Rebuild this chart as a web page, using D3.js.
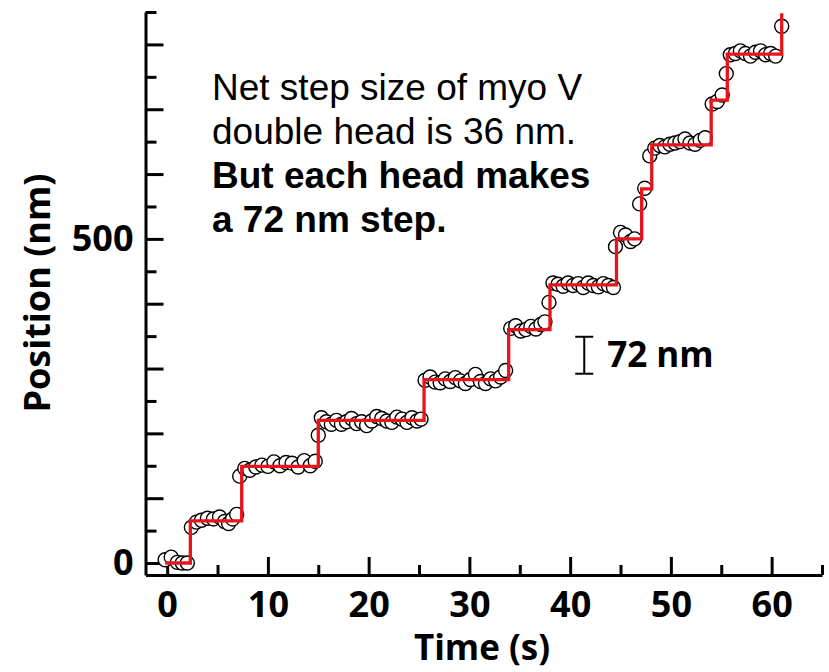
<!DOCTYPE html>
<html>
<head>
<meta charset="utf-8">
<script src="https://cdn.jsdelivr.net/npm/d3@7"></script>
<style>
  body { margin: 0; background: #fff; }
  svg { display: block; }
</style>
</head>
<body>
<svg id="chart" width="829" height="672"></svg>
<script>
// measured trace (time in s, position in nm)
const times = [
    -0.2, 0.4, 1.0, 1.5, 2.0,
    2.4, 2.9, 3.4, 4.0, 4.6, 5.2, 5.7, 6.1, 6.5, 6.9,
    7.2, 7.7, 8.2, 8.8, 9.4, 10.0, 10.6, 11.2, 11.8, 12.4, 13.0, 13.6, 14.2, 14.7,
    15.0, 15.3, 15.8, 16.3, 16.8, 17.3, 17.8, 18.3, 18.8, 19.3, 19.8, 20.3, 20.8, 21.3, 21.8, 22.3, 22.8, 23.3, 23.8, 24.3, 24.8, 25.2,
    25.6, 26.1, 26.6, 27.1, 27.6, 28.1, 28.6, 29.1, 29.6, 30.1, 30.6, 31.1, 31.6, 32.1, 32.6, 33.1, 33.6,
    34.1, 34.6, 35.1, 35.6, 36.1, 36.6, 37.1, 37.5,
    37.9, 38.3, 38.8, 39.3, 39.8, 40.3, 40.8, 41.3, 41.8, 42.3, 42.8, 43.3, 43.8, 44.3,
    44.5, 45.0, 45.5, 46.0, 46.4,
    46.9, 47.4,
    47.9, 48.4, 48.9, 49.4, 49.9, 50.4, 50.9, 51.4, 51.9, 52.4, 52.9, 53.4,
    54.1, 54.6, 55.1,
    55.5, 55.9, 56.4, 56.9, 57.4, 57.9, 58.4, 58.9, 59.4, 59.9, 60.4,
    61.0
];
const positions = [
    5, 9, 1, 0, 0,
    55, 63, 66, 69, 68, 71, 64, 61, 68, 75,
    134, 146, 143, 148, 151, 149, 156, 150, 155, 154, 148, 158, 150, 157,
    197, 224, 218, 214, 220, 214, 218, 223, 215, 218, 212, 219, 226, 223, 219, 217, 225, 222, 217, 224, 219, 222,
    282, 287, 279, 278, 284, 280, 286, 281, 277, 283, 291, 280, 277, 284, 281, 287, 297,
    362, 366, 358, 360, 365, 361, 368, 372,
    402, 432, 430, 427, 432, 428, 431, 425, 432, 428, 426, 431, 428, 425,
    488, 510, 506, 496, 500,
    554, 578,
    628, 640, 644, 642, 646, 648, 650, 654, 648, 646, 652, 656,
    708, 712, 722,
    755, 784, 786, 790, 786, 782, 788, 790, 784, 786, 782,
    828
];

// fitted steps
const stepTimes = [-0.2, 2.3, 7.4, 15.0, 25.5, 33.9, 38.0, 44.6, 47.1, 48.1, 54.0, 55.6, 61.0];
const stepLevels = [0, 65, 149, 220, 283, 360, 429, 500, 577, 645, 714, 785, 848];

const xMajorTicks = [0, 10, 20, 30, 40, 50, 60];
const xMinorTicks = [5, 15, 25, 35, 45, 55, 65];
const yMajorTicks = [0, 100, 200, 300, 400, 500, 600, 700, 800];
const yMinorTicks = [50, 150, 250, 350, 450, 550, 650, 750, 850];
const yLabels = [0, 500];

const scaleBar = { t: 41.4, lo: 292, hi: 349, label: '72 nm' };
const noteLines = [
    { text: 'Net step size of myo V', bold: false },
    { text: 'double head is 36 nm.', bold: false },
    { text: 'But each head makes', bold: true },
    { text: 'a 72 nm step.', bold: true }
];

const svg = d3.select('#chart');

const xScale = d3.scaleLinear().domain([-2.15, 65]).range([145.5, 822]);
const yScale = d3.scaleLinear().domain([-18.5, 850]).range([575, 12]);

const labelFont = "'Open Sans', sans-serif";

// axes: ticks point inward
const gX = svg.append('g').attr('transform', 'translate(0,' + yScale.range()[0] + ')');
gX.call(d3.axisBottom(xScale).tickValues(xMajorTicks).tickSizeInner(-18).tickSizeOuter(0).tickPadding(16).tickFormat(d3.format('d')));
gX.append('g').call(d3.axisBottom(xScale).tickValues(xMinorTicks).tickSizeInner(-10).tickSizeOuter(0).tickFormat(''))
    .select('.domain').remove();

const gY = svg.append('g').attr('transform', 'translate(' + xScale.range()[0] + ',0)');
gY.call(d3.axisLeft(yScale).tickValues(yMajorTicks).tickSizeInner(-18).tickSizeOuter(0).tickPadding(12)
    .tickFormat(d => (yLabels.includes(d) ? d : '')));
gY.append('g').call(d3.axisLeft(yScale).tickValues(yMinorTicks).tickSizeInner(-11).tickSizeOuter(0).tickFormat(''))
    .select('.domain').remove();

svg.selectAll('.domain, .tick line')
    .attr('stroke', '#000')
    .attr('stroke-width', 3);
svg.selectAll('.tick text')
    .attr('fill', '#000')
    .style('font-family', labelFont)
    .style('font-weight', 700)
    .style('font-size', '36px');

// axis titles
svg.append('text')
    .attr('x', 482)
    .attr('y', 660)
    .attr('text-anchor', 'middle')
    .style('font-family', labelFont)
    .style('font-weight', 700)
    .style('font-size', '35px')
    .text('Time (s)');

svg.append('text')
    .attr('transform', 'translate(50,293) rotate(-90)')
    .attr('text-anchor', 'middle')
    .style('font-family', labelFont)
    .style('font-weight', 700)
    .style('font-size', '36px')
    .text('Position (nm)');

// data circles
const points = times.map((t, i) => ({ t: t, p: positions[i] }));
svg.append('g')
    .selectAll('circle')
    .data(points)
    .enter()
    .append('circle')
    .attr('cx', d => xScale(d.t))
    .attr('cy', d => yScale(d.p))
    .attr('r', 7)
    .attr('fill', '#fff')
    .attr('stroke', '#000')
    .attr('stroke-width', 1.4);

// step fit
const steps = stepTimes.map((t, i) => ({ t: t, p: stepLevels[i] }));
const stepLine = d3.line()
    .x(d => xScale(d.t))
    .y(d => yScale(d.p))
    .curve(d3.curveStepAfter);
svg.append('path')
    .datum(steps)
    .attr('d', stepLine)
    .attr('fill', 'none')
    .attr('stroke', '#e8141c')
    .attr('stroke-width', 3.3);

// scale bar
const sbX = xScale(scaleBar.t);
const sb = svg.append('g').attr('stroke', '#000').attr('stroke-width', 2);
sb.append('line').attr('x1', sbX).attr('x2', sbX).attr('y1', yScale(scaleBar.lo)).attr('y2', yScale(scaleBar.hi));
sb.append('line').attr('x1', sbX - 9).attr('x2', sbX + 9).attr('y1', yScale(scaleBar.lo)).attr('y2', yScale(scaleBar.lo));
sb.append('line').attr('x1', sbX - 9).attr('x2', sbX + 9).attr('y1', yScale(scaleBar.hi)).attr('y2', yScale(scaleBar.hi));
svg.append('text')
    .attr('x', sbX + 23)
    .attr('y', 367)
    .style('font-family', labelFont)
    .style('font-weight', 700)
    .style('font-size', '35px')
    .text(scaleBar.label);

// note
svg.append('g')
    .selectAll('text')
    .data(noteLines)
    .enter()
    .append('text')
    .attr('x', 212)
    .attr('y', (d, i) => 100 + i * 44)
    .style('font-family', "'Liberation Sans', Arial, sans-serif")
    .style('font-weight', d => (d.bold ? 700 : 400))
    .style('font-size', '37px')
    .text(d => d.text);
</script>
</body>
</html>
